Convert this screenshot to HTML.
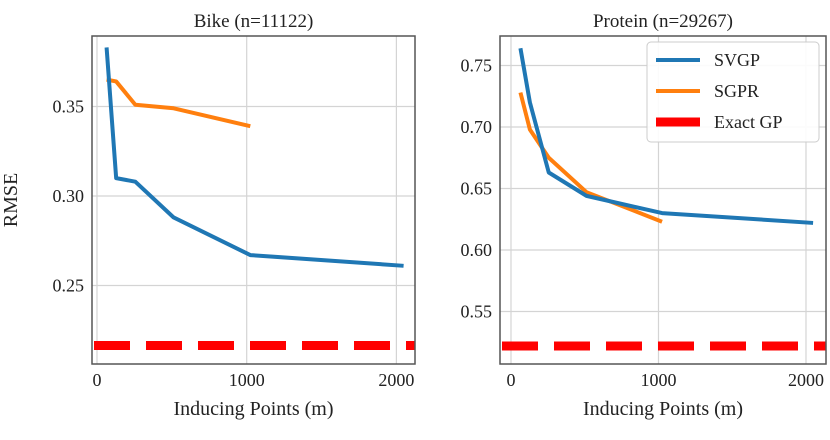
<!DOCTYPE html>
<html><head><meta charset="utf-8"><style>
body{margin:0;background:#fff;}
svg text{font-family:"Liberation Serif",serif;fill:#222;}
</style></head><body>
<svg id="chart" width="830" height="435" xmlns="http://www.w3.org/2000/svg"></svg>
<script>
const mValues=[64,128,256,512,1024,2048];
const sgprM=[64,128,256,512,1024];
const bikeSVGP=[0.383,0.310,0.308,0.288,0.267,0.261];
const bikeSGPR=[0.365,0.364,0.351,0.349,0.339];
const bikeExact=0.2165;
const protSVGP=[0.764,0.720,0.663,0.644,0.630,0.622];
const protSGPR=[0.728,0.698,0.675,0.647,0.623];
const protExact=0.522;
const xTicks=[0,1000,2000];
const bikeYTicks=[0.25,0.30,0.35];
const protYTicks=[0.55,0.60,0.65,0.70,0.75];
const NS="http://www.w3.org/2000/svg";
const svg=document.getElementById('chart');
function mk(t,a,p){const e=document.createElementNS(NS,t);for(const k in a)e.setAttribute(k,a[k]);(p||svg).appendChild(e);return e;}
function panel(o){
  const g=mk('g',{});
  
  
  const X=v=>o.x0+(v-0)*o.xs, Y=v=>o.y0-(v-o.yv0)*o.ys;
  xTicks.forEach(t=>{
    const l=mk('line',{x1:X(t),x2:X(t),y1:o.top,y2:o.bot,stroke:'#d4d4d4','stroke-width':1.2},g);
    
    const tx=mk('text',{x:X(t),y:o.bot+22,'text-anchor':'middle','font-size':18},g);tx.textContent=t;
    
  });
  o.yt.forEach(t=>{
    const l=mk('line',{x1:o.left,x2:o.right,y1:Y(t),y2:Y(t),stroke:'#d4d4d4','stroke-width':1.2},g);
    
    const tx=mk('text',{x:o.left-8,y:Y(t)+6,'text-anchor':'end','font-size':18},g);tx.textContent=t.toFixed(2);
    
  });
  const ex=mk('line',{x1:o.left,x2:o.right,y1:Y(o.exact),y2:Y(o.exact),stroke:'#ff0000','stroke-width':9,'stroke-dasharray':'36,16','stroke-dashoffset':-2},g);
  
  const p1=mk('polyline',{points:sgprM.map((m,i)=>X(m)+','+Y(o.sgpr[i])).join(' '),fill:'none',stroke:'#ff7f0e','stroke-width':4,'stroke-linejoin':'round'},g);
  
  const p2=mk('polyline',{points:mValues.map((m,i)=>X(m)+','+Y(o.svgp[i])).join(' '),fill:'none',stroke:'#1f77b4','stroke-width':4,'stroke-linejoin':'round'},g);
  
  const fr=mk('rect',{x:o.left,y:o.top,width:o.right-o.left,height:o.bot-o.top,fill:'none',stroke:'#555','stroke-width':1.5},g);
  
  const ti=mk('text',{x:(o.left+o.right)/2,y:o.top-9,'text-anchor':'middle','font-size':19},g);ti.textContent=o.title;
  
  const xl=mk('text',{x:(o.left+o.right)/2,y:o.bot+51,'text-anchor':'middle','font-size':20},g);xl.textContent='Inducing Points (m)';
  
}
panel({name:'bike-panel',title:'Bike (n=11122)',left:92,right:415,top:36,bot:364,x0:97,xs:0.1497,y0:196,yv0:0.30,ys:1790,yt:bikeYTicks,svgp:bikeSVGP,sgpr:bikeSGPR,exact:bikeExact});
panel({name:'protein-panel',title:'Protein (n=29267)',left:500,right:826,top:36,bot:364,x0:511,xs:0.1475,y0:250,yv0:0.60,ys:1230,yt:protYTicks,svgp:protSVGP,sgpr:protSGPR,exact:protExact});
const yl=mk('text',{x:17,y:200,'text-anchor':'middle','font-size':20,transform:'rotate(-90 17 200)'});yl.textContent='RMSE';

const lg=mk('g',{});

mk('rect',{x:647,y:42,width:172,height:100,rx:4,fill:'#fff','fill-opacity':0.9,stroke:'#ccc'},lg);
[['SVGP','#1f77b4',4],['SGPR','#ff7f0e',4],['Exact GP','#ff0000',9]].forEach((d,i)=>{
  const y=60+i*31;
  const l=mk('line',{x1:656,x2:700,y1:y,y2:y,stroke:d[1],'stroke-width':d[2]},lg);
  
  const t=mk('text',{x:714,y:y+6,'font-size':18},lg);t.textContent=d[0];
  
});
</script>
</body></html>
